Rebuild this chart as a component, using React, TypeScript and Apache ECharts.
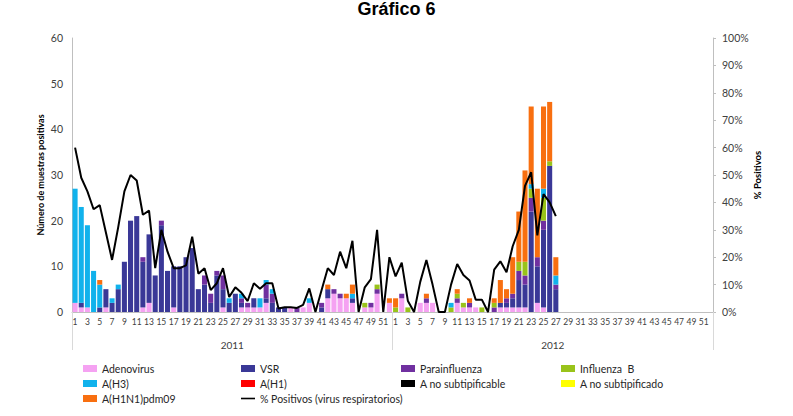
import { useEffect, useRef } from "react";
import * as echarts from "echarts";

const YEARS = ["2011", "2012"];
const WEEKS_PER_YEAR = 52;

// weekly counts, 2011 weeks 1-52
const ADENO_2011 = [2,1,1,0,0,1,0,0,0,0, 0,1,2,0,0,0,1,0,0,0, 0,0,0,0,1,0,0,1,1,1, 1,2,0,0,0,1,0,1,2,0, 0,3,4,3,3,2,0,1,1,4, 0,2];
const VSR_2011 = [0,1,0,0,1,4,2,5,11,20, 21,10,15,8,19,9,9,10,12,14, 5,6,2,8,4,2,4,1,0,2, 0,1,2,1,1,0,0,0,0,0, 1,2,0,0,0,1,0,0,0,0, 0,0];
const PARA_2011 = [0,0,0,0,0,0,0,0,0,0, 0,1,0,0,1,0,0,0,0,0, 0,2,2,1,3,0,0,1,1,0, 0,3,2,0,0,0,1,0,0,0, 1,0,1,1,0,0,0,0,1,1, 0,0];
const INFB_2011 = [0,0,0,0,0,0,0,0,0,0, 0,0,0,0,0,0,0,0,0,0, 0,0,0,0,0,0,0,0,0,0, 0,0,0,0,0,0,0,0,0,0, 0,0,0,0,0,0,0,1,0,1, 0,0];
const H3_2011 = [25,21,18,9,5,0,1,1,0,0, 0,0,0,0,0,0,0,0,0,0, 0,0,0,0,0,1,0,1,0,0, 2,1,1,0,0,0,0,0,1,0, 0,0,0,0,0,1,0,0,0,0, 0,0];
const PDM_2011 = [0,0,0,0,1,0,0,0,0,0, 0,0,0,0,0,0,0,0,0,0, 0,0,0,0,0,0,0,0,0,0, 0,0,0,0,0,0,0,0,0,0, 0,1,0,0,1,2,0,0,0,0, 0,1];
const PCT_2011 = [60,49,44,37.5,39,29,19,31,44,50, 48,35.5,37,16,30,22,16,16,17,27.5, 14,16,8,10.5,16,5.5,9,7,4,10.5, 8.5,10.5,10.5,1.3,1.7,1.7,1.5,2.6,8.6,0, 8,16,13.5,22,16,26,0,9,12,30, 0,20];

// 2012 weeks 1-27 (no data after)
const ADENO_2012 = [0,3,0,0,2,2,2,0,0,0, 2,1,1,1,0,0,0,1,1,1, 1,1,0,2,1,0,0];
const VSR_2012 = [0,0,0,0,0,0,0,0,0,0, 0,0,0,0,0,0,0,1,1,2, 6,5,22,8,17,32,5];
const PARA_2012 = [0,1,0,0,0,1,0,0,0,0, 1,0,1,0,0,0,1,0,1,1, 2,2,3,2,2,0,1];
const INFB_2012 = [1,0,1,0,0,0,0,0,0,1, 1,1,0,0,1,0,1,0,0,0, 2,3,2,0,5,1,0];
const H3_2012 = [0,0,0,0,0,0,0,0,0,1, 0,0,0,0,0,0,0,0,0,0, 0,0,1,0,2,0,2];
const PDM_2012 = [2,0,0,0,0,1,0,0,0,0, 1,0,1,0,0,0,1,5,2,8, 11,20,17,15,18,13,4];
const PCT_2012 = [13,18,4,0,11,19,10,0,0,10, 17.5,13.5,11.5,4.5,4.5,0,15.5,18.5,14.5,24, 30,46,51,28,43,40,35];

// no cases reported for these
const H1: number[] = [];
const NO_SUBTIPIFICABLE: number[] = [];
const NO_SUBTIPIFICADO: number[] = [];

const WEEK_LABELS = YEARS.flatMap(() =>
  Array.from({ length: WEEKS_PER_YEAR }, (_, i) => String(i + 1))
);

const LINE_NAME = "% Positivos (virus respiratorios)";

const BAR_SERIES: { name: string; color: string; data: number[] }[] = [
  { name: "Adenovirus", color: "#F5A2F2", data: [...ADENO_2011, ...ADENO_2012] },
  { name: "VSR", color: "#3A3897", data: [...VSR_2011, ...VSR_2012] },
  { name: "Parainfluenza", color: "#7030A0", data: [...PARA_2011, ...PARA_2012] },
  { name: "Influenza  B", color: "#99C31A", data: [...INFB_2011, ...INFB_2012] },
  { name: "A(H3)", color: "#11B2EC", data: [...H3_2011, ...H3_2012] },
  { name: "A(H1)", color: "#FF0000", data: H1 },
  { name: "A no subtipificable", color: "#000000", data: NO_SUBTIPIFICABLE },
  { name: "A no subtipificado", color: "#FFFF00", data: NO_SUBTIPIFICADO },
  { name: "A(H1N1)pdm09", color: "#F86F10", data: [...PDM_2011, ...PDM_2012] },
];

const FONT = "Lato, 'Open Sans', sans-serif";
const AXIS_GRAY = "#BFBFBF";

export default function App() {
  const ref = useRef<HTMLDivElement>(null);

  useEffect(() => {
    document.body.style.margin = "0";
    if (!ref.current) return;
    const chart = echarts.init(ref.current, null, { renderer: "svg" });

    const legendBase = {
      orient: "vertical" as const,
      itemWidth: 14,
      itemHeight: 7,
      itemGap: 4,
      selectedMode: false,
      textStyle: { fontSize: 10.5, color: "#262626", fontFamily: FONT },
    };
    const item = (name: string) => ({ name, icon: "rect" });

    chart.setOption({
      animation: false,
      title: {
        text: "Gráfico 6",
        left: "center",
        top: 0,
        padding: [0, 5, 5, 5],
        textStyle: { fontSize: 18, fontWeight: "bold", color: "#000", fontFamily: "'Liberation Sans', Arial, sans-serif" },
      },
      grid: { left: 72, right: 80, top: 38, bottom: 104 },
      legend: [
        { ...legendBase, left: 78, top: 358, data: [item("Adenovirus"), item("A(H3)"), item("A(H1N1)pdm09")] },
        {
          ...legendBase,
          left: 236,
          top: 358,
          data: [item("VSR"), item("A(H1)"), { name: LINE_NAME, icon: "path://M0,0H14V1.6H0Z" }],
        },
        { ...legendBase, left: 396, top: 358, data: [item("Parainfluenza"), item("A no subtipificable")] },
        { ...legendBase, left: 556, top: 358, data: [item("Influenza  B"), item("A no subtipificado")] },
      ],
      xAxis: [
        {
          type: "category",
          data: WEEK_LABELS,
          position: "bottom",
          axisLine: { lineStyle: { color: AXIS_GRAY } },
          axisTick: { show: false },
          axisLabel: { interval: 1, fontSize: 8.5, color: "#404040", fontFamily: FONT, margin: 5 },
        },
        {
          type: "category",
          data: YEARS,
          position: "bottom",
          offset: 0,
          axisLine: { show: false },
          axisTick: { show: true, length: 38, lineStyle: { color: "#D9D9D9" } },
          axisLabel: { fontSize: 10, color: "#404040", fontFamily: FONT, margin: 28 },
        },
      ],
      yAxis: [
        {
          type: "value",
          min: 0,
          max: 60,
          interval: 10,
          name: "Número de muestras positivas",
          nameLocation: "middle",
          nameRotate: 90,
          nameGap: 27,
          nameMoveOverlap: false,
          nameTextStyle: { fontSize: 9, fontWeight: "bold", color: "#000", fontFamily: FONT },
          axisLine: { show: true, lineStyle: { color: AXIS_GRAY } },
          axisTick: { show: false },
          splitLine: { show: false },
          axisLabel: { fontSize: 10.5, color: "#404040", fontFamily: FONT, margin: 9 },
        },
        {
          type: "value",
          min: 0,
          max: 100,
          interval: 10,
          position: "right",
          name: "% Positivos",
          nameLocation: "middle",
          nameRotate: 90,
          nameGap: 39,
          nameMoveOverlap: false,
          nameTextStyle: { fontSize: 9.5, fontWeight: "bold", color: "#000", fontFamily: FONT },
          axisLine: { show: true, lineStyle: { color: AXIS_GRAY } },
          axisTick: { show: true, length: 3, lineStyle: { color: AXIS_GRAY } },
          splitLine: { show: false },
          axisLabel: { formatter: "{value}%", fontSize: 10.5, color: "#404040", fontFamily: FONT, margin: 9 },
        },
      ],
      series: [
        ...BAR_SERIES.map((s) => ({
          name: s.name,
          type: "bar",
          stack: "total",
          xAxisIndex: 0,
          yAxisIndex: 0,
          barCategoryGap: "18%",
          itemStyle: { color: s.color },
          data: s.data,
        })),
        {
          name: LINE_NAME,
          type: "line",
          xAxisIndex: 0,
          yAxisIndex: 1,
          symbol: "none",
          lineStyle: { color: "#000", width: 2 },
          itemStyle: { color: "#000" },
          data: [...PCT_2011, ...PCT_2012],
          z: 5,
        },
      ],
    });

    return () => chart.dispose();
  }, []);

  return <div ref={ref} style={{ width: 793, height: 416 }} />;
}
